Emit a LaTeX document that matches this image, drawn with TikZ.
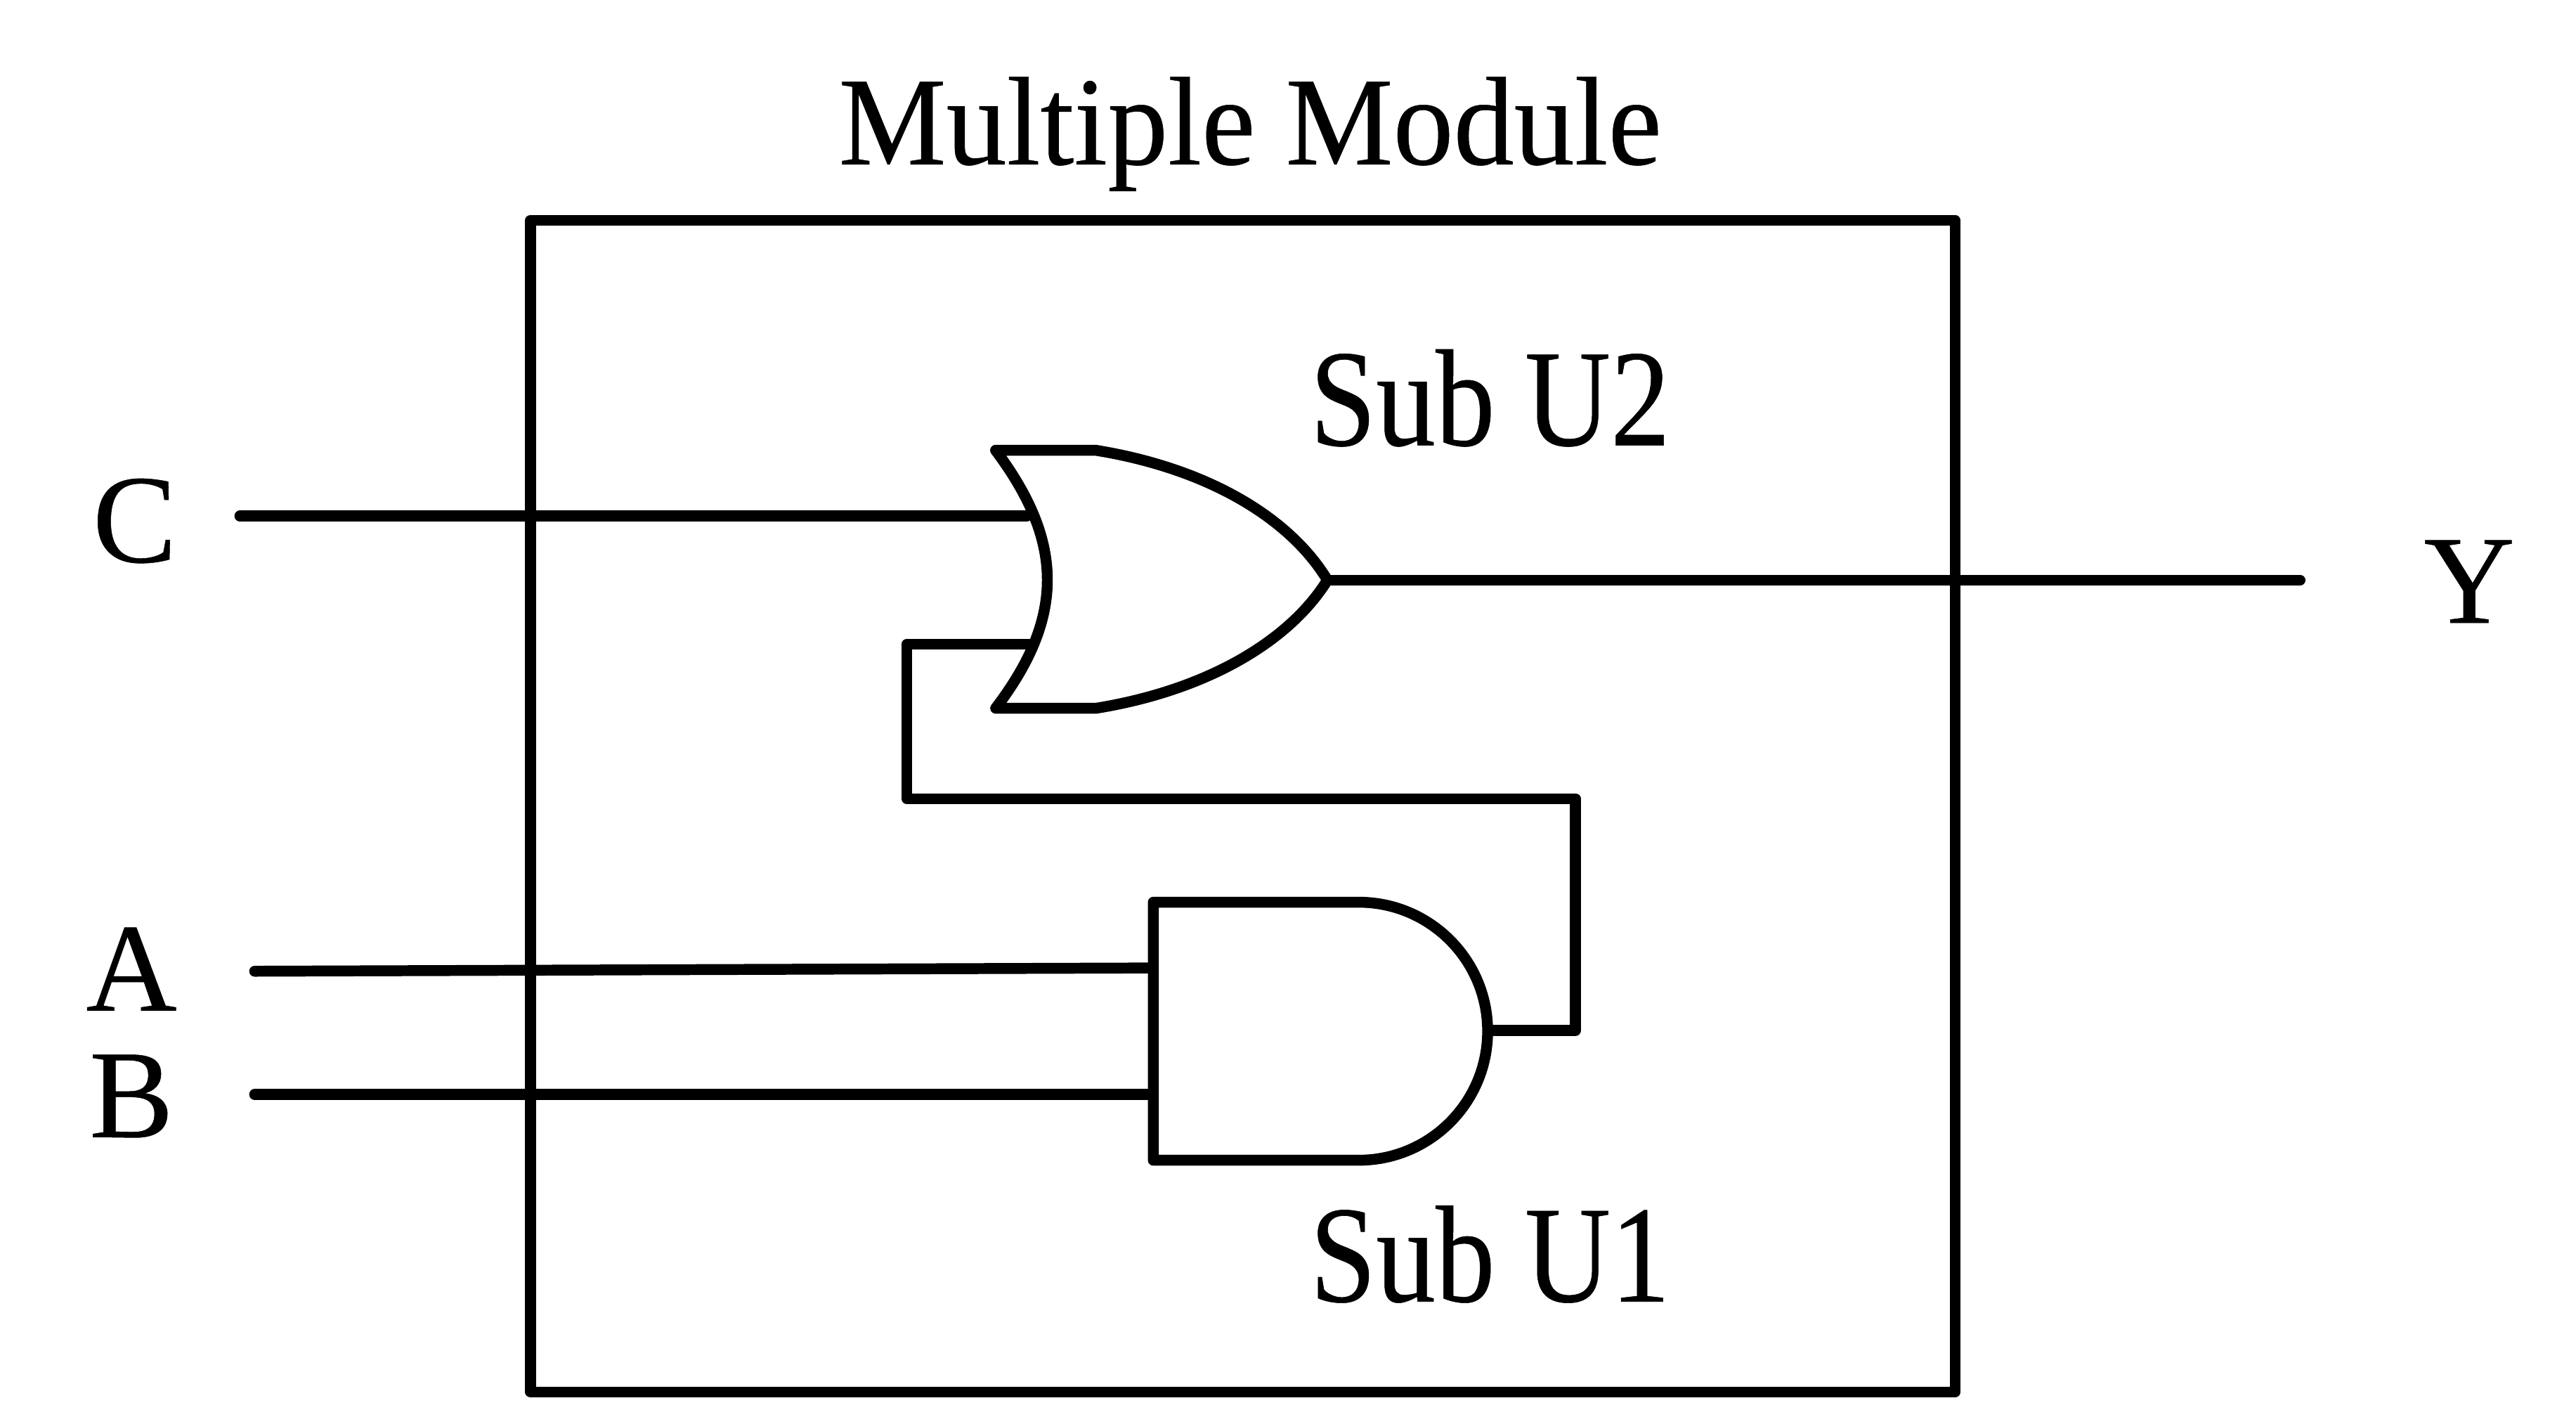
\documentclass[tikz,border=0pt]{standalone}
\usepackage{fontspec}
\setmainfont[FakeBold=0.3]{Liberation Serif}
\tikzstyle{wire} = [line width=4.4pt,line cap=round,line join=round]
\tikzstyle{label} = [inner sep=0pt,anchor=base,font=\fontsize{51}{51}\selectfont]
\tikzstyle{titlelabel} = [label,xscale=0.96]
\tikzstyle{sublabel} = [label,font=\fontsize{56}{56}\selectfont,xscale=0.86]
\begin{document}
\begin{tikzpicture}[x=0.02338cm,y=-0.02338cm]
	\useasboundingbox (0,0) rectangle (1568,857.6);
	\node (title) [titlelabel] at (761,100) {Multiple Module};
	\node (labelU2) [sublabel] at (907,271) {Sub U2};
	\node (labelU1) [sublabel] at (907,792) {Sub U1};
	\node (portC) [label] at (82,342) {C};
	\node (portA) [label] at (80,615) {A};
	\node (portB) [label] at (80,692) {B};
	\node (portY) [label] at (1503,379) {Y};

	\coordinate (endC) at (146,314);
	\coordinate (endA) at (155,591);
	\coordinate (endB) at (155,666);
	\coordinate (endY) at (1400,353);
	\coordinate (orC) at (625,314);
	\coordinate (orFb) at (627,392);
	\coordinate (orOut) at (808,353);
	\coordinate (andA) at (702,589);
	\coordinate (andB) at (702,666);
	\coordinate (andOut) at (906,627);

	\draw [wire] (323,134) rectangle (1190,847);

	% or gate
	\draw [wire] (606,274) -- (667,274) .. controls (735,285) and (785,315) .. (orOut)
		.. controls (785,390) and (735,420) .. (667,431) -- (606,431)
		.. controls (648,376) and (648,330) .. (606,274);
	% and gate
	\draw [wire] (827,549) -- (702,549) -- (702,706) -- (827,706)
		arc (90:-90:78.5);

	\draw [wire] (endC) -- (orC);
	\draw [wire] (orOut) -- (endY);
	\draw [wire] (endA) -- (andA);
	\draw [wire] (endB) -- (andB);
	\draw [wire] (andOut) -- (959,627) -- (959,486) -- (552,486) -- (552,392) -- (orFb);
\end{tikzpicture}
\end{document}
